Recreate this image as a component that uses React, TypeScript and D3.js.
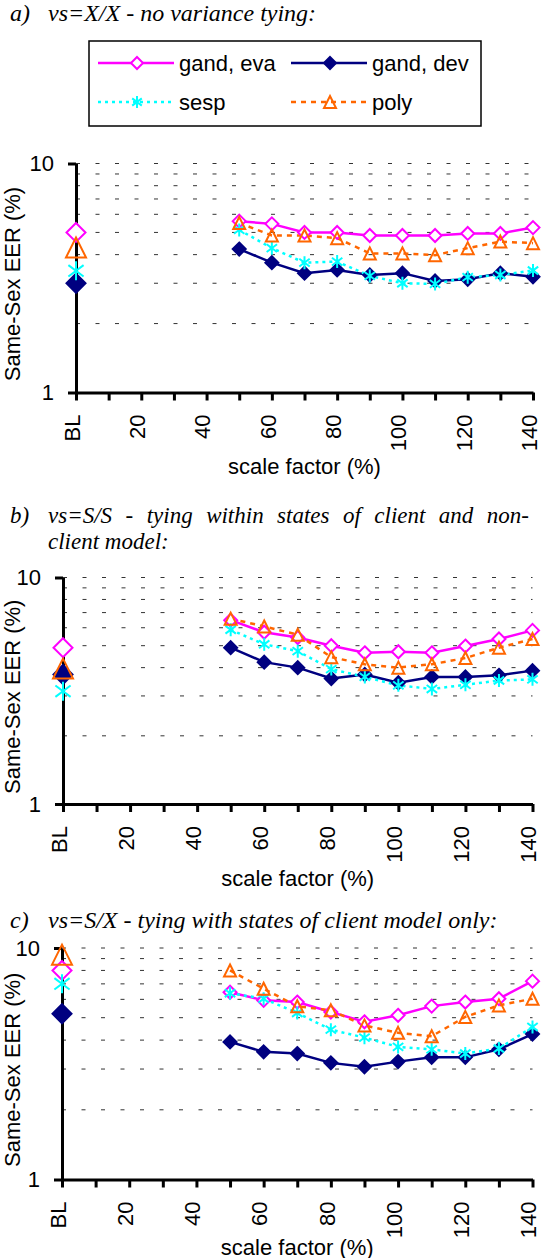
import * as d3 from "d3";
import { useEffect, useRef } from "react";

// categories on the x axis (BL = baseline, then scale factor %)
const categories = ["BL", "10", "20", "30", "40", "50", "60", "70", "80", "90", "100", "110", "120", "130", "140"];
const scaleFactors = ["50", "60", "70", "80", "90", "100", "110", "120", "130", "140"];
const tickLabels = ["BL", "20", "40", "60", "80", "100", "120", "140"];
const yTicks = [1, 10];
const gridValues = [2, 3, 4, 5, 6, 7, 8, 9, 10];
const seriesNames = ["gand, eva", "gand, dev", "sesp", "poly"];

// a) vs=X/X
const aBaseline = [5.0, 3.0, 3.4, 4.3];
const aGandEva = [5.6, 5.45, 5.0, 5.0, 4.85, 4.85, 4.85, 4.95, 4.95, 5.25];
const aGandDev = [4.23, 3.69, 3.32, 3.43, 3.26, 3.32, 3.07, 3.12, 3.32, 3.2];
const aSesp = [5.13, 4.27, 3.69, 3.73, 3.23, 3.0, 2.98, 3.19, 3.26, 3.41];
const aPoly = [5.5, 4.85, 4.85, 4.72, 4.05, 4.05, 3.98, 4.27, 4.56, 4.49];

// b) vs=S/S
const bBaseline = [4.9, 3.73, 3.15, 3.96];
const bGandEva = [6.48, 5.73, 5.43, 5.0, 4.65, 4.7, 4.65, 4.98, 5.35, 5.84];
const bGandDev = [4.9, 4.23, 4.0, 3.58, 3.73, 3.43, 3.64, 3.64, 3.7, 3.88];
const bSesp = [5.88, 5.07, 4.73, 3.94, 3.64, 3.34, 3.22, 3.36, 3.51, 3.55];
const bPoly = [6.58, 6.08, 5.59, 4.45, 4.14, 4.0, 4.14, 4.41, 4.9, 5.35];

// c) vs=S/X
const cBaseline = [8.0, 5.2, 7.0, 9.36];
const cGandEva = [6.44, 5.94, 5.84, 5.29, 4.8, 5.12, 5.61, 5.84, 6.04, 7.19];
const cGandDev = [3.93, 3.56, 3.5, 3.19, 3.07, 3.23, 3.37, 3.37, 3.65, 4.25];
const cSesp = [6.38, 6.04, 5.24, 4.44, 4.1, 3.74, 3.65, 3.5, 3.68, 4.56];
const cPoly = [8.0, 6.67, 5.6, 5.38, 4.63, 4.3, 4.16, 5.04, 5.65, 6.04];

const SANS = "Liberation Sans, Arial, sans-serif";
const SERIF = "Liberation Serif, Times New Roman, serif";

const styles = [
    { color: "#ff00ff", marker: "diamond", fill: "#fff", dash: null },
    { color: "#000080", marker: "diamond", fill: "#000080", dash: null },
    { color: "#00ffff", marker: "star", fill: "none", dash: "3 4" },
    { color: "#ff6600", marker: "triangle", fill: "none", dash: "5 5" },
];

const panels = [
    { left: 76, right: 533, top: 163.5, bottom: 392.5, xLabelDy: 81, baseline: aBaseline, series: [aGandEva, aGandDev, aSesp, aPoly] },
    { left: 63, right: 532.5, top: 577.5, bottom: 804, xLabelDy: 82, baseline: bBaseline, series: [bGandEva, bGandDev, bSesp, bPoly] },
    { left: 62, right: 532.5, top: 948, bottom: 1179.5, xLabelDy: 75, baseline: cBaseline, series: [cGandEva, cGandDev, cSesp, cPoly] },
];

function markerPath(kind, r) {
    if (kind === "diamond") return `M0,${-r}L${r},0L0,${r}L${-r},0Z`;
    if (kind === "triangle") return `M0,${-r}L${r},${r}L${-r},${r}Z`;
    return `M0,${-r}V${r}M${-r * 0.8},${-r * 0.6}L${r * 0.8},${r * 0.6}M${-r * 0.8},${r * 0.6}L${r * 0.8},${-r * 0.6}`;
}

function drawMarker(g, kind, st, cx, cy, r) {
    g.append("path")
        .attr("d", markerPath(kind, r))
        .attr("transform", `translate(${cx},${cy})`)
        .attr("fill", st.fill)
        .attr("stroke", st.color)
        .attr("stroke-width", 2);
}

function drawPanel(svg, p) {
    const x = d3.scalePoint().domain(categories).range([p.left, p.right]);
    const y = d3.scaleLog().domain([1, 10]).range([p.bottom, p.top]);
    const g = svg.append("g");

    // dashed grid
    g.selectAll(".grid")
        .data(gridValues)
        .enter()
        .append("line")
        .attr("x1", p.left)
        .attr("x2", p.right)
        .attr("y1", (d) => y(d))
        .attr("y2", (d) => y(d))
        .attr("stroke", "#333")
        .attr("stroke-width", 1)
        .attr("stroke-dasharray", "4 15.5");

    // x axis
    const xa = g
        .append("g")
        .attr("transform", `translate(0,${p.bottom})`)
        .call(
            d3.axisBottom(x)
                .tickSize(8)
                .tickSizeOuter(0)
                .tickFormat((d) => (tickLabels.includes(d) ? d : ""))
        );
    xa.select(".domain").attr("stroke-width", 3);
    xa.selectAll(".tick line").attr("stroke-width", 3);
    xa.selectAll("text")
        .attr("transform", "rotate(-90)")
        .attr("x", -22)
        .attr("y", 0)
        .attr("dy", "0.15em")
        .attr("text-anchor", "end")
        .attr("font-size", 22)
        .attr("font-family", SANS)
        .attr("fill", "#000");

    // y axis
    const ya = g
        .append("g")
        .attr("transform", `translate(${p.left},0)`)
        .call(d3.axisLeft(y).tickValues(yTicks).tickFormat(d3.format("d")).tickSize(8).tickSizeOuter(0).tickPadding(14));
    ya.select(".domain").attr("stroke-width", 3);
    ya.selectAll(".tick line").attr("stroke-width", 3);
    ya.selectAll("text").attr("font-size", 22).attr("font-family", SANS).attr("fill", "#000");

    // axis titles
    g.append("text")
        .attr("x", (p.left + p.right) / 2)
        .attr("y", p.bottom + p.xLabelDy)
        .attr("text-anchor", "middle")
        .attr("font-size", 22)
        .attr("font-family", SANS)
        .text("scale factor (%)");
    g.append("text")
        .attr("transform", `translate(20,${(p.top + p.bottom) / 2 + 6}) rotate(-90)`)
        .attr("text-anchor", "middle")
        .attr("font-size", 22)
        .attr("font-family", SANS)
        .text("Same-Sex EER (%)");

    // series lines + markers
    const line = d3
        .line()
        .x((d) => x(d[0]))
        .y((d) => y(d[1]));
    p.series.forEach((vals, i) => {
        const st = styles[i];
        const pts = scaleFactors.map((c, j) => [c, vals[j]]);
        g.append("path")
            .attr("d", line(pts))
            .attr("fill", "none")
            .attr("stroke", st.color)
            .attr("stroke-width", 2.5)
            .attr("stroke-dasharray", st.dash);
    });
    p.series.forEach((vals, i) => {
        const st = styles[i];
        scaleFactors.forEach((c, j) => drawMarker(g, st.marker, st, x(c), y(vals[j]), st.marker === "triangle" ? 6 : 6.5));
        drawMarker(g, st.marker, st, x("BL"), y(p.baseline[i]), st.marker === "triangle" ? 10 : 9.5);
    });
}

function drawLegend(svg) {
    const g = svg.append("g");
    g.append("rect")
        .attr("x", 89)
        .attr("y", 41)
        .attr("width", 392)
        .attr("height", 85)
        .attr("fill", "#fff")
        .attr("stroke", "#000")
        .attr("stroke-width", 1.5);
    const cols = [98, 291];
    const rows = [63, 102];
    seriesNames.forEach((name, i) => {
        const st = styles[i];
        const x0 = cols[i % 2];
        const y0 = rows[Math.floor(i / 2)];
        g.append("line")
            .attr("x1", x0)
            .attr("x2", x0 + 76)
            .attr("y1", y0)
            .attr("y2", y0)
            .attr("stroke", st.color)
            .attr("stroke-width", 2.5)
            .attr("stroke-dasharray", st.dash);
        drawMarker(g, st.marker, st, x0 + 39, y0, 6);
        g.append("text")
            .attr("x", x0 + 81)
            .attr("y", y0)
            .attr("dy", "0.35em")
            .attr("font-size", 22)
            .attr("font-family", SANS)
            .text(name);
    });
}

function drawTitles(svg) {
    const g = svg.append("g").attr("font-family", SERIF).attr("font-style", "italic").attr("font-size", 24);
    g.append("text").attr("x", 10).attr("y", 21).text("a)");
    g.append("text").attr("x", 48).attr("y", 21).text("vs=X/X - no variance tying:");

    // b) is justified across the column, like the source
    const gb = g.append("g").attr("font-size", 23);
    const bt = gb.append("text").attr("y", 523);
    bt.append("tspan").attr("x", 10).text("b)");
    const words = "vs=S/S - tying within states of client and non-".split(" ");
    const spans = words.map((w) => bt.append("tspan").text(w));
    const widths = spans.map((s) => s.node().getComputedTextLength());
    const gap = (529 - 48 - d3.sum(widths)) / (words.length - 1);
    let cx = 48;
    spans.forEach((s, i) => {
        s.attr("x", cx);
        cx += widths[i] + gap;
    });
    gb.append("text").attr("x", 48).attr("y", 549).text("client model:");

    g.append("text").attr("x", 10).attr("y", 928).text("c)");
    g.append("text").attr("x", 48).attr("y", 928).text("vs=S/X - tying with states of client model only:");
}

export default function App() {
    const ref = useRef(null);

    useEffect(() => {
        const svg = d3.select(ref.current);
        svg.selectAll("*").remove();
        panels.forEach((p) => drawPanel(svg, p));
        drawLegend(svg);
        drawTitles(svg);
    }, []);

    return (
        <div style={{ position: "absolute", left: 0, top: 0 }}>
            <svg ref={ref} width={541} height={1258}></svg>
        </div>
    );
}
